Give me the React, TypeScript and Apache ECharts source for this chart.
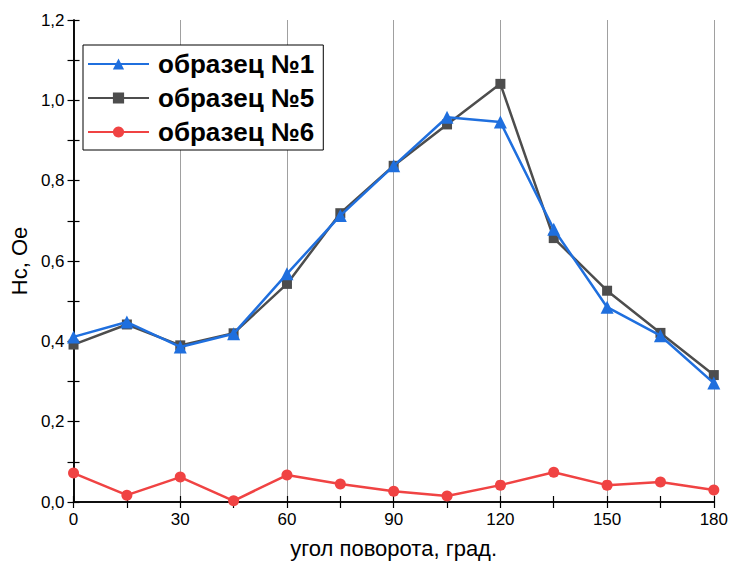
import React, { useEffect, useRef } from "react";
import * as echarts from "echarts";

const angles = [0, 15, 30, 45, 60, 75, 90, 105, 120, 135, 150, 165, 180];
const sample1 = [0.411, 0.448, 0.386, 0.419, 0.568, 0.713, 0.837, 0.958, 0.946, 0.679, 0.485, 0.414, 0.296];
const sample5 = [0.392, 0.442, 0.39, 0.42, 0.543, 0.719, 0.837, 0.94, 1.041, 0.657, 0.526, 0.421, 0.316];
const sample6 = [0.072, 0.017, 0.062, 0.003, 0.067, 0.045, 0.027, 0.015, 0.042, 0.074, 0.042, 0.05, 0.03];
const seriesNames = ["образец №1", "образец №5", "образец №6"];
const xName = "угол поворота, град.";
const yName = "Hc, Oe";

const FONT = "'Liberation Sans', Arial, sans-serif";

export default function App() {
  const ref = useRef<HTMLDivElement>(null);
  useEffect(() => {
    if (!ref.current) return;
    const chart = echarts.init(ref.current, undefined, { renderer: "svg" });
    const pairs = (vals: number[]) => angles.map((a, i) => [a, vals[i]]);
    const axisLine = { show: true, lineStyle: { color: "#000", width: 1.5 } };
    const tickStyle = { color: "#000", width: 1.2 };
    chart.setOption({
      animation: false,
      backgroundColor: "#fff",
      grid: { left: 72, right: 16, top: 20, bottom: 60 },
      legend: {
        left: 83,
        top: 45,
        orient: "vertical",
        backgroundColor: "#fff",
        borderColor: "#000",
        borderWidth: 1,
        borderRadius: 0,
        padding: [6, 9, 5, 4],
        itemWidth: 61,
        itemHeight: 14,
        itemGap: 8,
        textStyle: { fontFamily: FONT, fontSize: 26, fontWeight: "bold", color: "#000", padding: [0, 0, 0, 4] },
        data: seriesNames,
      },
      xAxis: [
        {
          type: "value",
          min: 0,
          max: 180,
          interval: 30,
          position: "bottom",
          name: xName,
          nameLocation: "middle",
          nameGap: 35,
          nameTextStyle: { fontFamily: FONT, fontSize: 22, color: "#000" },
          axisLine,
          axisTick: { show: true, inside: true, length: 6, lineStyle: tickStyle },
          minorTick: { show: true, splitNumber: 2, length: 6, lineStyle: tickStyle },
          axisLabel: { fontFamily: FONT, fontSize: 17, color: "#000", margin: 9 },
          splitLine: { show: true, lineStyle: { color: "#a0a0a0", width: 1 } },
        },
        {
          type: "value",
          min: 0,
          max: 180,
          interval: 30,
          position: "top",
          axisLine,
          axisTick: { show: true, inside: true, length: 6, lineStyle: tickStyle },
          minorTick: { show: true, splitNumber: 2, length: 6, lineStyle: tickStyle },
          axisLabel: { show: false },
          splitLine: { show: false },
        },
      ],
      yAxis: [
        {
          type: "value",
          min: 0,
          max: 1.2,
          interval: 0.2,
          position: "left",
          name: yName,
          nameLocation: "middle",
          nameGap: 39,
          nameTextStyle: { fontFamily: FONT, fontSize: 22, color: "#000" },
          axisLine,
          axisTick: { show: true, inside: true, length: 6, lineStyle: tickStyle },
          minorTick: { show: true, splitNumber: 2, length: 6, lineStyle: tickStyle },
          axisLabel: {
            fontFamily: FONT,
            fontSize: 17,
            color: "#000",
            margin: 9,
            formatter: (v: number) => v.toFixed(1).replace(".", ","),
          },
          splitLine: { show: false },
        },
        {
          type: "value",
          min: 0,
          max: 1.2,
          interval: 0.2,
          position: "right",
          axisLine,
          axisTick: { show: true, inside: true, length: 6, lineStyle: tickStyle },
          minorTick: { show: true, splitNumber: 2, length: 6, lineStyle: tickStyle },
          axisLabel: { show: false },
          splitLine: { show: false },
        },
      ],
      series: [
        {
          name: seriesNames[0],
          type: "line",
          data: pairs(sample1),
          symbol: "triangle",
          symbolSize: 13,
          z: 4,
          lineStyle: { color: "#1f6fde", width: 2.5 },
          itemStyle: { color: "#1f6fde" },
        },
        {
          name: seriesNames[1],
          type: "line",
          data: pairs(sample5),
          symbol: "rect",
          symbolSize: 10,
          z: 3,
          lineStyle: { color: "#4d4d4d", width: 2.5 },
          itemStyle: { color: "#4d4d4d" },
        },
        {
          name: seriesNames[2],
          type: "line",
          data: pairs(sample6),
          symbol: "circle",
          symbolSize: 11,
          z: 2,
          lineStyle: { color: "#f04343", width: 2.5 },
          itemStyle: { color: "#f04343" },
        },
      ],
    });
    return () => chart.dispose();
  }, []);
  return <div ref={ref} style={{ width: 731, height: 564, position: "absolute", left: 0, top: 0 }} />;
}
